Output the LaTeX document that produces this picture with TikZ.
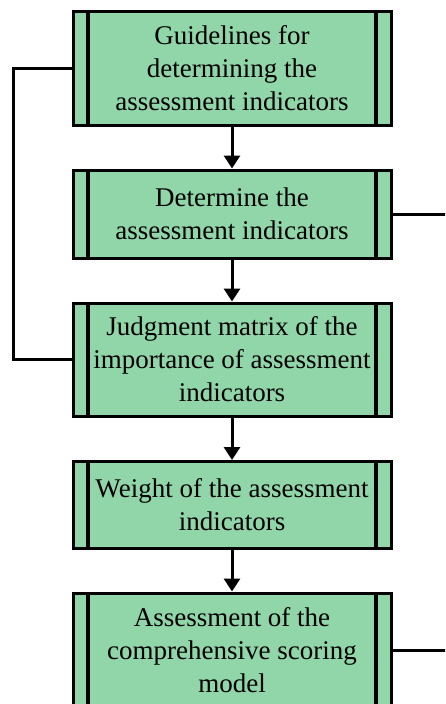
\documentclass[tikz,border=0pt]{standalone}
\usepackage{fontspec}
\setmainfont{Liberation Serif}
\usetikzlibrary{arrows.meta}
\definecolor{boxgreen}{RGB}{144,214,168}
\tikzset{
  procbox/.style={draw=black, fill=boxgreen, line width=3pt, minimum width=318pt,
    align=center, inner sep=0pt, font=\fontsize{27}{33}\selectfont,
    path picture={
      \draw[line width=3.2pt] ([xshift=15pt]path picture bounding box.north west) -- ([xshift=15pt]path picture bounding box.south west);
      \draw[line width=3.2pt] ([xshift=-15pt]path picture bounding box.north east) -- ([xshift=-15pt]path picture bounding box.south east);
    }},
  flow/.style={line width=3pt, -{Triangle[length=13pt,width=16pt]}},
  link/.style={line width=3pt}
}
\begin{document}
\begin{tikzpicture}[x=1pt,y=-1pt]
\clip (0,0) rectangle (445,704);
\node[procbox, minimum height=114pt] (b1) at (232,68) {Guidelines for\\determining the\\assessment indicators};
\node[procbox, minimum height=88pt] (b2) at (232,214) {Determine the\\assessment indicators};
\node[procbox, minimum height=113pt] (b3) at (232,359.5) {Judgment matrix of the\\importance of assessment\\indicators};
\node[procbox, minimum height=87pt] (b4) at (232,505) {Weight of the assessment\\indicators};
\node[procbox, minimum height=115pt] (b5) at (232,650.5) {Assessment of the\\comprehensive scoring\\model};
\draw[flow] (b1.south) -- (b2.north);
\draw[flow] (b2.south) -- (b3.north);
\draw[flow] (b3.south) -- (b4.north);
\draw[flow] (b4.south) -- (b5.north);
\coordinate (lc) at (13,68);
\draw[link] (b1.west) -- (lc) |- (b3.west);
\coordinate (r1) at (446,214);
\coordinate (r2) at (446,650.5);
\draw[link] (b2.east) -- (r1);
\draw[link] (b5.east) -- (r2);
\end{tikzpicture}
\end{document}
